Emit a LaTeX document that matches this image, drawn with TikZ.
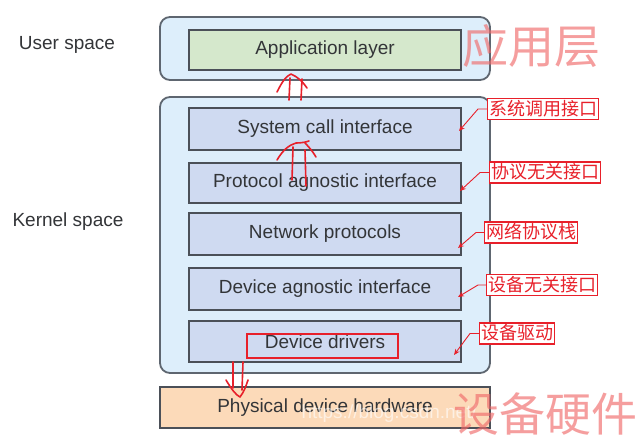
\documentclass[tikz,border=0pt]{standalone}
\usepackage{fontspec}
\setmainfont{Liberation Sans}
\newfontfamily\cjk{Noto Sans CJK SC}
\usetikzlibrary{arrows.meta}
\definecolor{outerfill}{HTML}{DDEEFB}
\definecolor{outerline}{HTML}{5E6670}
\definecolor{innerfill}{HTML}{CFDAF1}
\definecolor{innerline}{HTML}{4B5058}
\definecolor{appfill}{HTML}{D5E8CC}
\definecolor{hwfill}{HTML}{FCDAB9}
\definecolor{mark}{HTML}{E8202A}
\definecolor{hand}{HTML}{F06A6A}
\definecolor{txt}{HTML}{333538}
\tikzset{
  outerbox/.style={draw=outerline, line width=1.8pt, fill=outerfill, rounded corners=10pt, minimum width=330pt},
  layerbox/.style={draw=innerline, line width=1.8pt, fill=innerfill, minimum width=272pt, font=\fontsize{19}{19}\selectfont, text=txt},
  sidelabel/.style={font=\fontsize{19}{19}\selectfont, text=txt},
  redlabel/.style={draw=mark, line width=1.2pt, fill=white, text=mark, font=\cjk\fontsize{18}{18}\selectfont, inner sep=1.5pt, text height=15pt, text depth=3pt, anchor=west},
  redarrow/.style={draw=mark, line width=0.9pt, -{Stealth[length=6pt,width=5pt]}},
  handline/.style={draw=mark, line width=1.6pt, line cap=round, line join=round},
  handtext/.style={text=hand, opacity=0.65, font=\cjk\fontsize{46}{46}\selectfont}
}
\begin{document}
\begin{tikzpicture}[x=1pt,y=-1pt]
\useasboundingbox (0,0) rectangle (637,447);
\fill[white] (0,0) rectangle (637,447);

% outer boxes
\node[outerbox, minimum height=63pt] (user) at (325,48.5) {};
\node[outerbox, minimum height=276pt] (kernel) at (325,235) {};

% layers
\node[layerbox, fill=appfill, minimum height=40pt] (app) at (325,50) {\raisebox{-1.5pt}{Application layer}};
\node[layerbox, minimum height=42pt] (sys) at (325,129) {System call interface};
\node[layerbox, minimum height=40pt] (proto) at (325,183) {Protocol agnostic interface};
\node[layerbox, minimum height=42pt] (net) at (325,234) {Network protocols};
\node[layerbox, minimum height=42pt] (dai) at (325,289) {Device agnostic interface};
\node[layerbox, minimum height=41pt] (drv) at (325,341.5) {\raisebox{-3.5pt}{Device drivers}};
\node[draw=innerline, line width=1.8pt, fill=hwfill, minimum width=330pt, minimum height=41pt, font=\fontsize{19}{19}\selectfont, text=txt] (hw) at (325,407.5) {Physical device hardware};

% red box round "Device drivers"
\node[draw=mark, line width=1.3pt, minimum width=151pt, minimum height=24pt] (drvmark) at (322.5,346) {};

% side labels
\node[sidelabel] (us) at (67,45) {User space};
\node[sidelabel] (ks) at (68,222) {Kernel space};

% red labels
\node[redlabel] (l1) at (487,109) {系统调用接口};
\node[redlabel] (l2) at (489,172.5) {协议无关接口};
\node[redlabel] (l3) at (484,232.5) {网络协议栈};
\node[redlabel] (l4) at (486,285) {设备无关接口};
\node[redlabel] (l5) at (479,333.5) {设备驱动};

\coordinate (t1) at (459,131);
\coordinate (t2) at (460,191);
\coordinate (t3) at (458,248);
\coordinate (t4) at (458,297);
\coordinate (t5) at (454,355);
\draw[redarrow] (l1.west) -- ++(-9,0) -- (t1);
\draw[redarrow] (l2.west) -- ++(-9,0) -- (t2);
\draw[redarrow] (l3.west) -- ++(-8,0) -- (t3);
\draw[redarrow] (l4.west) -- ++(-8,0) -- (t4);
\draw[redarrow] (l5.west) -- ++(-9,0) -- (t5);

% hand-drawn arrows
\coordinate (a1) at (291,74);
\draw[handline] (277,92) .. controls (282,82) and (286,76) .. (a1) .. controls (298,77) and (303,82) .. (307,88);
\draw[handline] (290,78) -- (289,100);
\draw[handline] (302,79) -- (301,100);

\coordinate (a2) at (296,143);
\draw[handline] (277,160) .. controls (283,150) and (289,145) .. (a2) .. controls (302,143) and (306,142) .. (309,141);
\draw[handline] (305,143) .. controls (310,148) and (313,152) .. (316,157);
\draw[handline] (293,147) -- (292,180);
\draw[handline] (305,150) -- (306,186);

\coordinate (a3) at (240,397);
\draw[handline] (233,362) -- (233,388);
\draw[handline] (243,362) -- (242,390);
\draw[handline] (226,380) .. controls (232,390) and (236,395) .. (a3) .. controls (244,392) and (246,386) .. (248,380);

% watermark
\node[text=white, opacity=0.6, font=\fontsize{19}{19}\selectfont, anchor=west] (wm) at (298,414) {https://blog.csdn.net/};

% handwritten labels
\node[handtext, anchor=center] (hw1) at (531,46) {应用层};
\node[handtext, anchor=center] (hw2) at (545,414) {设备硬件};
\end{tikzpicture}
\end{document}
